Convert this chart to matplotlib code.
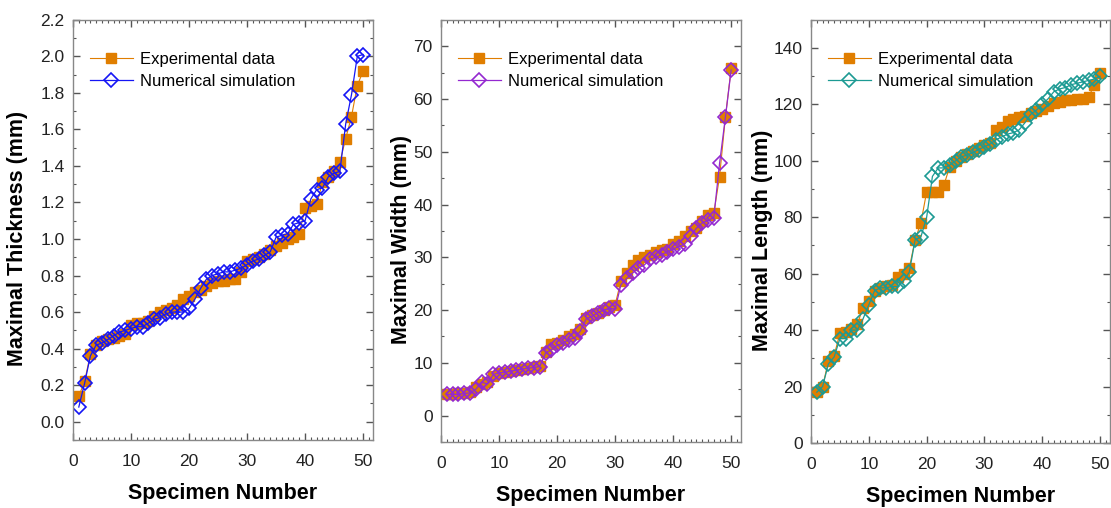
import matplotlib
matplotlib.use('Agg')
import matplotlib.pyplot as plt
import numpy as np
from matplotlib.ticker import MultipleLocator, FuncFormatter

plt.rcParams['font.family'] = ['Liberation Sans', 'DejaVu Sans']

specimen = np.arange(1, 51)

thick_exp = [0.14, 0.22, 0.37, 0.42, 0.44, 0.45, 0.46, 0.47, 0.48, 0.53,
             0.54, 0.54, 0.55, 0.58, 0.60, 0.61, 0.62, 0.64, 0.67, 0.69,
             0.71, 0.72, 0.74, 0.76, 0.77, 0.77, 0.78, 0.78, 0.82, 0.88,
             0.89, 0.90, 0.92, 0.94, 0.96, 0.98, 1.00, 1.01, 1.03, 1.17,
             1.18, 1.19, 1.31, 1.34, 1.37, 1.42, 1.55, 1.67, 1.84, 1.92]
thick_num = [0.08, 0.21, 0.36, 0.42, 0.43, 0.45, 0.47, 0.49, 0.50, 0.51,
             0.52, 0.52, 0.54, 0.56, 0.57, 0.59, 0.60, 0.60, 0.60, 0.62,
             0.67, 0.73, 0.78, 0.80, 0.81, 0.82, 0.82, 0.83, 0.84, 0.86,
             0.88, 0.89, 0.91, 0.93, 1.01, 1.02, 1.03, 1.08, 1.09, 1.10,
             1.22, 1.27, 1.28, 1.34, 1.36, 1.37, 1.63, 1.79, 2.00, 2.01]

width_exp = [4.0, 4.0, 4.2, 4.3, 4.5, 5.5, 6.0, 6.3, 7.5, 8.0,
             8.2, 8.5, 8.6, 8.8, 9.0, 9.2, 9.4, 12.0, 13.5, 13.8,
             14.3, 15.0, 15.5, 16.5, 18.5, 19.0, 19.5, 20.0, 20.5, 21.0,
             25.5, 27.0, 28.5, 29.5, 30.0, 30.5, 31.0, 31.3, 31.5, 32.5,
             33.0, 34.0, 35.0, 35.5, 36.8, 38.0, 38.3, 45.3, 56.5, 65.8]
width_num = [4.0, 4.0, 4.0, 4.2, 4.3, 5.0, 6.3, 6.0, 7.8, 8.1,
             8.2, 8.4, 8.6, 8.8, 9.0, 9.1, 9.3, 11.8, 12.5, 13.3,
             13.7, 14.4, 14.7, 16.0, 18.3, 18.8, 19.5, 20.0, 20.3, 20.2,
             24.8, 26.0, 27.0, 28.0, 28.5, 29.6, 30.0, 30.5, 31.0, 31.6,
             32.0, 32.5, 34.0, 35.5, 36.5, 37.0, 37.5, 47.8, 56.5, 65.5]

length_exp = [18, 20, 29, 31, 39, 39.5, 40.5, 42, 48, 50.5,
              54, 55, 55.5, 56, 59, 60, 62, 72, 78, 89,
              89, 89, 91.5, 98, 100, 101.5, 102.5, 103.5, 104.5, 105.5,
              106.5, 111, 112, 114, 115, 115.5, 116, 117, 117.5, 118.5,
              119.5, 120.5, 121, 121.5, 121.5, 122, 122, 122.5, 127, 131]
length_num = [18, 20, 28, 30.5, 37, 37, 40, 40, 44, 49,
              54, 55, 55, 55.5, 55.5, 57.5, 60.5, 72, 73, 80,
              94.5, 97.5, 97.5, 98.5, 100, 101.5, 102, 103, 104, 105,
              106, 107.5, 108.5, 109.5, 110, 111, 113.5, 116.5, 118, 120,
              122, 124.5, 125.5, 126, 127, 127.5, 128, 128.5, 129, 130]

orange = '#E07E00'
panels = [
    (thick_num, thick_exp, 'Maximal Thickness (mm)', '#1515F5', (-0.1, 2.2), 0.2, 0.1, '{:.1f}'),
    (width_num, width_exp, 'Maximal Width (mm)', '#9428D0', (-5, 75), 10, 5, '{:.0f}'),
    (length_num, length_exp, 'Maximal Length (mm)', '#1C9A93', (0, 150), 20, 10, '{:.0f}'),
]
boxes = [[0.0657, 0.134, 0.270, 0.827],
         [0.397, 0.130, 0.270, 0.831],
         [0.730, 0.128, 0.269, 0.833]]
ylabel_x = [-0.15, -0.097, -0.127]

fig = plt.figure(figsize=(11.11, 5.08), dpi=100)

for box, lx, (num, exp, ylabel, col, ylim, major, minor, fmt) in zip(boxes, ylabel_x, panels):
    ax = fig.add_axes(box)
    ax.plot(specimen, exp, color=orange, lw=0.8, marker='s', ms=6.5,
            mec=orange, mfc=orange, label='Experimental data')
    ax.plot(specimen, num, color=col, lw=0.9, marker='D', ms=7,
            mec=col, mfc='none', mew=1.2, label='Numerical simulation')
    ax.set_xlim(0, 51.7)
    ax.set_ylim(*ylim)
    ax.xaxis.set_major_locator(MultipleLocator(10))
    ax.xaxis.set_minor_locator(MultipleLocator(1))
    ax.yaxis.set_major_locator(MultipleLocator(major))
    ax.yaxis.set_minor_locator(MultipleLocator(minor))
    ax.yaxis.set_major_formatter(FuncFormatter(lambda v, p, f=fmt: f.format(v)))
    ax.tick_params(which='both', direction='in', top=True, right=True,
                   color='#555555', labelsize=12.5, labelcolor='#222222')
    ax.tick_params(which='major', length=5, width=1)
    ax.tick_params(which='minor', length=2.5, width=0.8)
    ax.tick_params(axis='x', which='major', pad=10)
    ax.tick_params(axis='y', which='major', pad=6)
    for sp in ax.spines.values():
        sp.set_color('#888888')
        sp.set_linewidth(1.0)
    ax.set_xlabel('Specimen Number', fontsize=15.5, fontweight='bold', labelpad=10)
    ax.set_ylabel(ylabel, fontsize=15.5, fontweight='bold')
    ax.yaxis.set_label_coords(lx, 0.48)
    ax.legend(loc='upper left', bbox_to_anchor=(0.0, 0.964), frameon=False,
              fontsize=12, handlelength=2.6, borderaxespad=0.6,
              labelspacing=0.43, handletextpad=0.4)

fig.savefig('out.png', dpi=100)
